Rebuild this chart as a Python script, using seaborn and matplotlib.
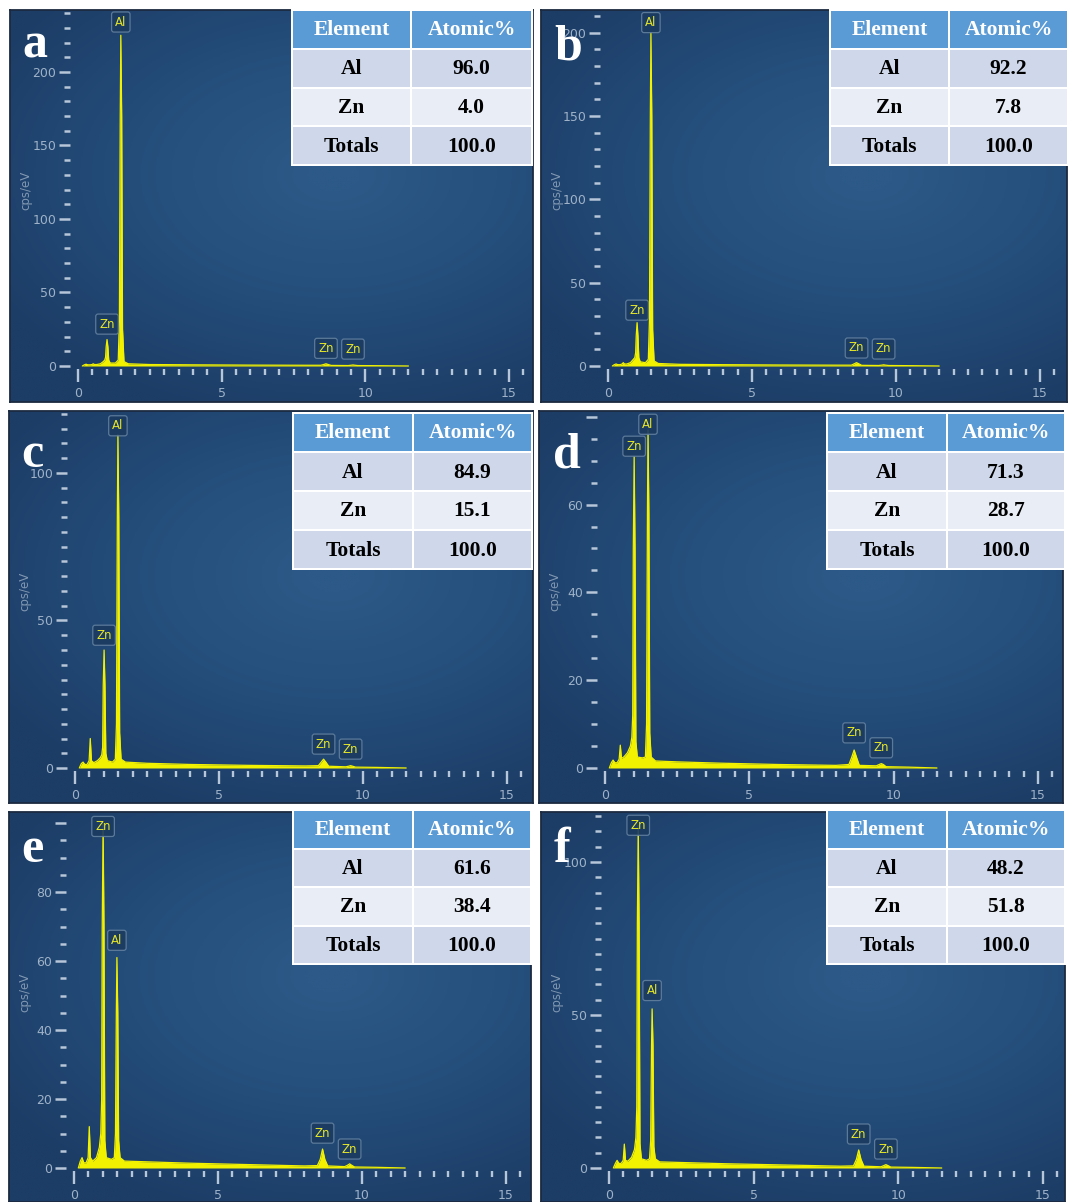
import numpy as np
import matplotlib
matplotlib.use("Agg")
import matplotlib.pyplot as plt
import seaborn as sns
from matplotlib.ticker import MultipleLocator
from matplotlib.patches import Rectangle
from matplotlib.colors import LinearSegmentedColormap

# ---- data ----
energy_kev = [0.15, 0.22, 0.28, 0.34, 0.42, 0.49, 0.53, 0.57, 0.65, 0.78,
              0.88, 0.93, 0.96, 0.98, 1.01, 1.04, 1.07, 1.12, 1.30, 1.40,
              1.44, 1.47, 1.49, 1.52, 1.55, 1.60, 1.75, 2.5, 4.0, 6.0,
              8.0, 8.45, 8.55, 8.63, 8.71, 8.81, 9.40, 9.50, 9.57, 9.64,
              9.74, 10.5, 11.5]
counts_a = [0, 0.8, 1.2, 0.8, 0.8, 1.0, 1.5, 1.0, 1.0, 1.5,
            3, 4, 6, 13, 18, 13, 4, 2, 2, 4,
            30, 170, 225, 170, 25, 3, 1.5, 1.0, 0.8, 0.6,
            0.5, 0.5, 1.0, 1.5, 1.0, 0.4, 0.3, 0.5, 0.7, 0.5,
            0.3, 0.2, 0]
counts_b = [0, 0.8, 1.2, 0.8, 0.8, 1.2, 2.0, 1.2, 1.2, 2.0,
            4, 5, 8, 18, 26, 18, 5, 2.5, 2, 4,
            28, 150, 200, 150, 22, 3, 1.5, 1.0, 0.8, 0.6,
            0.5, 0.5, 1.3, 2.0, 1.3, 0.4, 0.3, 0.5, 0.7, 0.5,
            0.3, 0.2, 0]
counts_c = [0, 1.5, 2.0, 1.2, 1.2, 2.5, 10, 2.5, 1.8, 2.5,
            3.5, 4.5, 7, 28, 40, 28, 5, 2.5, 2.0, 3.0,
            15, 85, 113, 85, 12, 3, 2.0, 1.6, 1.2, 0.9,
            0.7, 0.8, 2.0, 3.0, 2.0, 0.6, 0.4, 0.6, 0.8, 0.6,
            0.3, 0.2, 0]
counts_d = [0, 1.2, 1.8, 1.2, 1.2, 2.0, 5.2, 2.2, 2.5, 3.5,
            5, 7, 12, 50, 71, 50, 6, 2.5, 2.3, 2.5,
            10, 58, 77, 58, 8, 2.5, 1.6, 1.4, 1.1, 0.8,
            0.6, 0.8, 2.5, 4.1, 2.5, 0.6, 0.5, 0.8, 1.0, 0.8,
            0.3, 0.2, 0]
counts_e = [0, 2, 3, 1.5, 1.5, 3, 12, 3, 2, 3,
            6, 10, 20, 70, 100, 70, 8, 3, 2.5, 3,
            10, 45, 61, 45, 8, 3, 2, 1.8, 1.4, 1.0,
            0.6, 0.7, 2.5, 5.5, 2.5, 0.6, 0.4, 0.8, 1.2, 0.8,
            0.3, 0.2, 0]
counts_f = [0, 1.5, 2.5, 1.5, 1.5, 2.5, 7.8, 2.5, 2.2, 3.5,
            6, 10, 20, 80, 112, 80, 8, 3, 2.5, 3,
            9, 40, 52, 40, 7, 3, 2, 1.8, 1.4, 1.0,
            0.6, 0.7, 2.8, 5.9, 2.8, 0.6, 0.4, 0.8, 1.1, 0.8,
            0.3, 0.2, 0]

letters = ["a", "b", "c", "d", "e", "f"]
al_atomic = ["96.0", "92.2", "84.9", "71.3", "61.6", "48.2"]
zn_atomic = ["4.0", "7.8", "15.1", "28.7", "38.4", "51.8"]
totals = ["100.0"] * 6
table_header = ["Element", "Atomic%"]
table_rows = ["Al", "Zn", "Totals"]

# peak markers: (element, energy keV, label height in counts)
peak_labels = [
    [("Al", 1.49, 234), ("Zn", 1.01, 28.5), ("Zn", 8.63, 12), ("Zn", 9.57, 11.5)],
    [("Al", 1.49, 206), ("Zn", 1.01, 33.5), ("Zn", 8.63, 10.8), ("Zn", 9.57, 10.2)],
    [("Al", 1.49, 116), ("Zn", 1.01, 45), ("Zn", 8.63, 8.1), ("Zn", 9.57, 6.4)],
    [("Al", 1.49, 78.3), ("Zn", 1.01, 73.3), ("Zn", 8.63, 8.0), ("Zn", 9.57, 4.6)],
    [("Zn", 1.01, 99), ("Al", 1.49, 66), ("Zn", 8.63, 10.1), ("Zn", 9.57, 5.5)],
    [("Zn", 1.01, 112), ("Al", 1.49, 58), ("Zn", 8.63, 11.1), ("Zn", 9.57, 6.2)],
]
spectra = [counts_a, counts_b, counts_c, counts_d, counts_e, counts_f]

# ---- layout (pixels) ----
W, H = 1069, 1202
# panel box, x of 0 keV, x of 15 keV, y of 0 counts, px per count, major, minor, labelled ticks
panels = [
    dict(box=(10, 10, 533, 402), x0=78, x15=509, y0=366, sy=1.47, major=50, minor=10, lab=[0, 50, 100, 150, 200]),
    dict(box=(541, 10, 1067, 402), x0=608, x15=1040, y0=366, sy=1.667, major=50, minor=10, lab=[0, 50, 100, 150, 200]),
    dict(box=(9, 411, 533, 803), x0=75, x15=507, y0=768, sy=2.95, major=50, minor=5, lab=[0, 50, 100]),
    dict(box=(539, 411, 1063, 803), x0=605, x15=1038, y0=768, sy=4.39, major=20, minor=5, lab=[0, 20, 40, 60]),
    dict(box=(9, 812, 531, 1202), x0=74, x15=506, y0=1168, sy=3.45, major=20, minor=5, lab=[0, 20, 40, 60, 80]),
    dict(box=(541, 812, 1065, 1202), x0=609, x15=1043, y0=1168, sy=3.06, major=50, minor=5, lab=[0, 50, 100]),
]
tables = [(292, 10, 532, 165, 411), (830, 10, 1068, 165, 949), (293, 413, 532, 569, 413),
          (827, 413, 1065, 569, 947), (293, 810, 531, 964, 413), (827, 810, 1065, 964, 947)]
letter_pos = [(22, 58), (554, 59), (21, 467), (553, 467), (21, 862), (554, 862)]

sns.set_theme(style="white")
plt.rcParams["font.family"] = ["DejaVu Sans"]

yellow = "#f2f200"
tick_c = "#b7c6d8"
lab_c = "#9fb2c8"
bg_cmap = LinearSegmentedColormap.from_list("bg", ["#2c5987", "#244d7a", "#1c3d66"])


def rect(x0, y0, x1, y1):
    return [x0 / W, 1 - y1 / H, (x1 - x0) / W, (y1 - y0) / H]


fig = plt.figure(figsize=(W / 100, H / 100), dpi=100)
fig.patch.set_facecolor("white")

yy, xx = np.mgrid[0:1:200j, 0:1:200j]
grad = np.sqrt(((xx - 0.62) / 1.0) ** 2 + ((yy - 0.42) / 0.85) ** 2)

for i, p in enumerate(panels):
    bx0, by0, bx1, by1 = p["box"]
    bg = fig.add_axes(rect(bx0, by0, bx1, by1), zorder=0)
    bg.imshow(grad, cmap=bg_cmap, vmin=0.05, vmax=0.75, aspect="auto", extent=(0, 1, 1, 0))
    bg.set_xticks([])
    bg.set_yticks([])
    for s in bg.spines.values():
        s.set_color("#1b2a40")
        s.set_linewidth(1.3)

    sx = (p["x15"] - p["x0"]) / 15.0
    sy = p["sy"]
    xmin, xmax = -8 / sx, 15.6
    ymin = -3 / sy
    ymax = (p["y0"] - (by0 + 3)) / sy
    ax = fig.add_axes(rect(p["x0"] + xmin * sx, by0 + 3, p["x0"] + xmax * sx, p["y0"] + 3), zorder=2)
    ax.patch.set_alpha(0)

    c = spectra[i]
    ax.fill_between(energy_kev, 0, c, color=yellow, lw=0)
    sns.lineplot(x=energy_kev, y=c, ax=ax, color=yellow, lw=0.9)

    ax.set_xlim(xmin, xmax)
    ax.set_ylim(ymin, ymax)
    for s in ax.spines.values():
        s.set_visible(False)
    ax.set_xticks([0, 5, 10, 15])
    ax.xaxis.set_minor_locator(MultipleLocator(0.5))
    majors = np.arange(0, ymax + 0.01, p["major"])
    ax.set_yticks(majors)
    ax.set_yticklabels([f"{int(m)}" if int(m) in p["lab"] else "" for m in majors])
    ax.yaxis.set_minor_locator(MultipleLocator(p["minor"]))
    ax.tick_params(axis="both", which="both", direction="out", color=tick_c,
                   labelcolor=lab_c, labelsize=9, left=True, bottom=True)
    ax.tick_params(axis="x", which="major", length=9, width=1.7, pad=4)
    ax.tick_params(axis="x", which="minor", length=4.5, width=1.7)
    ax.tick_params(axis="y", which="major", length=8, width=1.8, pad=2)
    ax.tick_params(axis="y", which="minor", length=4, width=1.8)
    ax.set_xlabel("")
    ax.set_ylabel("")

    for el, en, ly in peak_labels[i]:
        ax.text(en, ly, el, color="#e6e62a", fontsize=8.5, ha="center", va="center", zorder=5,
                bbox=dict(boxstyle="round,pad=0.3,rounding_size=0.2", fc="#1c3b60", ec="#62809f",
                          lw=0.9, alpha=0.9))

    fig.text((bx0 + 16) / W, 1 - (by0 + 180) / H, "cps/eV", rotation=90, color="#8298b3",
             fontsize=8.5, ha="center", va="center")

# overlay for tables and panel letters
ov = fig.add_axes([0, 0, 1, 1], zorder=10)
ov.set_xlim(0, W)
ov.set_ylim(H, 0)
ov.axis("off")

row_colors = ["#5b9bd5", "#cfd8ea", "#e9edf6", "#cfd8ea"]
for i, (tx0, ty0, tx1, ty1, tsplit) in enumerate(tables):
    ov.add_patch(Rectangle((tx0 - 1, ty0 - 1), tx1 - tx0 + 2, ty1 - ty0 + 2, fc="white", ec="none"))
    hh = (ty1 - ty0) / 4.0
    cells = [table_header, [table_rows[0], al_atomic[i]], [table_rows[1], zn_atomic[i]],
             [table_rows[2], totals[i]]]
    for r in range(4):
        top = ty0 + r * hh
        for cidx, (cx0, cx1) in enumerate([(tx0, tsplit), (tsplit, tx1)]):
            ov.add_patch(Rectangle((cx0 + 1, top + 1), cx1 - cx0 - 2, hh - 2, fc=row_colors[r], ec="none"))
            ov.text((cx0 + cx1) / 2, top + hh / 2 + 1, cells[r][cidx], ha="center", va="center",
                    fontsize=15.5, fontweight="bold", family="Liberation Serif",
                    color="white" if r == 0 else "black")

for i, (lx, ly) in enumerate(letter_pos):
    ov.text(lx, ly, letters[i], ha="left", va="baseline", fontsize=36, fontweight="bold",
            family="Liberation Serif", color="white")

fig.savefig("out.png", dpi=100)
